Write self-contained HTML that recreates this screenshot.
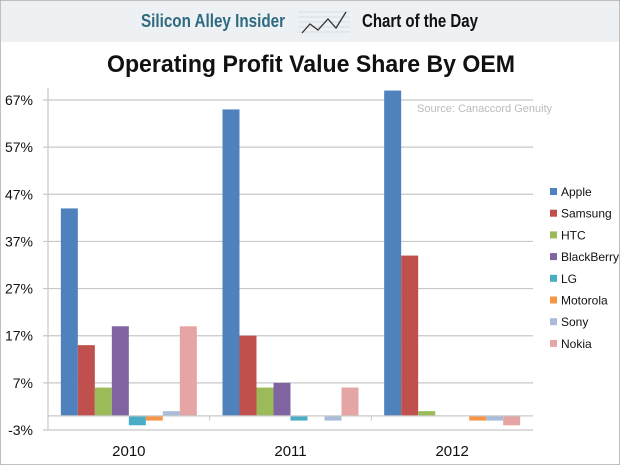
<!DOCTYPE html>
<html><head><meta charset="utf-8"><style>
html,body{margin:0;padding:0;background:#fff;}
svg{display:block;font-family:"Liberation Sans",sans-serif;}
</style></head><body>
<svg width="620" height="465" viewBox="0 0 620 465">
<rect x="0" y="0" width="620" height="465" fill="#fff" stroke="#aaa" stroke-width="1.5"/>
<rect x="1" y="1" width="618" height="41" fill="#eef1f4"/>
<text x="285" y="27" text-anchor="end" font-size="18" font-weight="bold" fill="#2e6a80" textLength="144" lengthAdjust="spacingAndGlyphs">Silicon Alley Insider</text>
<g stroke="#cfd6dd" stroke-width="0.8">
<line x1="298" y1="12" x2="350" y2="12"/><line x1="298" y1="17" x2="350" y2="17"/><line x1="298" y1="22" x2="350" y2="22"/><line x1="298" y1="27" x2="350" y2="27"/><line x1="298" y1="32" x2="350" y2="32"/>
</g>
<polyline points="302,33 310,24 318,30 328,19 336,28 346,12" fill="none" stroke="#333" stroke-width="1.3"/>
<text x="362" y="27" font-size="18" font-weight="bold" fill="#111" textLength="116" lengthAdjust="spacingAndGlyphs">Chart of the Day</text>
<text x="311" y="72" text-anchor="middle" font-size="24" font-weight="bold" fill="#111" textLength="408" lengthAdjust="spacingAndGlyphs">Operating Profit Value Share By OEM</text>
<text x="417" y="112" font-size="11" fill="#bbb">Source: Canaccord Genuity</text>
<g id="grid"></g><g id="bars"></g><g id="axes"></g><g id="legend"></g>
</svg>
<script>
const categories=["2010","2011","2012"];
const seriesNames=["Apple","Samsung","HTC","BlackBerry","LG","Motorola","Sony","Nokia"];
const colors=["#4f81bd","#c0504d","#9bbb59","#8064a2","#4bacc6","#f79646","#a9bcd9","#e6a5a5"];
const apple=[44,65,69];
const samsung=[15,17,34];
const htc=[6,6,1];
const blackberry=[19,7,0];
const lg=[-2,-1,0];
const motorola=[-1,0,-1];
const sony=[1,-1,-1];
const nokia=[19,6,-2];
const series=[apple,samsung,htc,blackberry,lg,motorola,sony,nokia];
const ticks=[-3,7,17,27,37,47,57,67];
const tickLabels=["-3%","7%","17%","27%","37%","47%","57%","67%"];
const NS="http://www.w3.org/2000/svg";
const L=48,R=533,vMin=-3,vMax=67,yTop=100,yBot=430;
function y(v){return yBot-(v-vMin)/(vMax-vMin)*(yBot-yTop);}
const gw=(R-L)/categories.length;
function gx(i){return L+i*gw;}
function mk(tag,attrs,parent){const e=document.createElementNS(NS,tag);for(const k in attrs)e.setAttribute(k,attrs[k]);parent.appendChild(e);return e;}
const grid=document.getElementById('grid'),bars=document.getElementById('bars'),axes=document.getElementById('axes'),legend=document.getElementById('legend');
ticks.forEach((t,i)=>{
 const ln=mk('line',{x1:43,x2:R,y1:y(t),y2:y(t),stroke:'#c8c8c8','stroke-width':1.2},grid);
 
 
 const tx=mk('text',{x:33,y:y(t)+5,'text-anchor':'end','font-size':14,fill:'#111'},axes);
 tx.textContent=tickLabels[i];
 
 
});
const bw=17,pad=(gw-bw*seriesNames.length)/2;
series.forEach((vals,s)=>{
 vals.forEach((v,i)=>{
  const x0=gx(i)+pad+s*bw;
  const y0=Math.min(y(v),y(0)),h=Math.abs(y(v)-y(0));
  const r=mk('rect',{x:x0,y:y0,width:bw,height:Math.max(h,0),fill:colors[s]},bars);
  
  
 });
});
const ax=mk('line',{x1:L,x2:L,y1:88,y2:yBot,stroke:'#c8c8c8','stroke-width':1.2},axes);


const xa=mk('line',{x1:L,x2:R,y1:y(0),y2:y(0),stroke:'#c8c8c8','stroke-width':1.2},axes);


categories.forEach((c,i)=>{
 if(i>0){const tk=mk('line',{x1:gx(i),x2:gx(i),y1:y(0),y2:y(0)+5,stroke:'#c8c8c8'},axes);
 
 }
 const tx=mk('text',{x:gx(i)+gw/2,y:456,'text-anchor':'middle','font-size':15,fill:'#111'},axes);
 tx.textContent=c;
 
 
});
seriesNames.forEach((n,s)=>{
 const yy=192+s*21.7;
 const g=mk('g',{},legend);
 
 
 mk('rect',{x:550,y:yy-4,width:7,height:7,fill:colors[s]},g);
 const t=mk('text',{x:561,y:yy+4,'font-size':12,fill:'#111'},g);
 t.textContent=n;
});
</script>
</body></html>
